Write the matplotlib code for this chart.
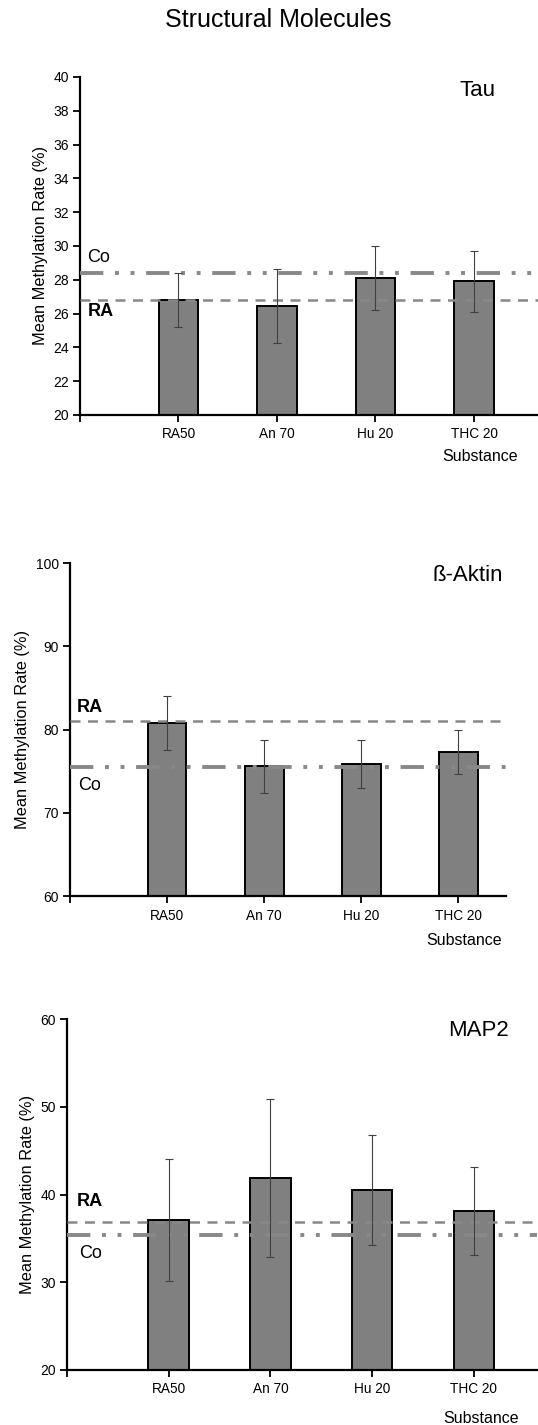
import matplotlib.pyplot as plt

plt.rcParams['font.family'] = ['Liberation Sans', 'DejaVu Sans']

# data
substances = ['RA50', 'An 70', 'Hu 20', 'THC 20']

tau_mean = [26.8, 26.45, 28.1, 27.9]
tau_err = [1.6, 2.2, 1.9, 1.8]
tau_co = 28.4
tau_ra = 26.8

aktin_mean = [80.8, 75.6, 75.9, 77.3]
aktin_err = [3.2, 3.2, 2.9, 2.7]
aktin_co = 75.5
aktin_ra = 81.0

map2_mean = [37.1, 41.9, 40.5, 38.1]
map2_err = [7.0, 9.0, 6.3, 5.0]
map2_co = 35.4
map2_ra = 36.9

fig = plt.figure(figsize=(5.38, 14.25), dpi=100)
fig.text(0.517, 0.986, 'Structural Molecules', ha='center', va='center', fontsize=18)

panels = [
    # name, means, errs, co, ra, rect, ylim, yticks, xmax,
    # name pos, substance pos, line labels (x, y, text)
    ('Tau', tau_mean, tau_err, tau_co, tau_ra,
     [0.1487, 0.7088, 0.8513, 0.2372], (20, 40), range(20, 41, 2), 4.65,
     (0.908, 0.96), (0.956, -0.123),
     [(0.07, 29.3, 'Co'), (0.08, 26.1, 'RA')]),
    ('ß-Aktin', aktin_mean, aktin_err, aktin_co, aktin_ra,
     [0.130, 0.3712, 0.8105, 0.2337], (60, 100), range(60, 101, 10), 4.49,
     (0.993, 0.964), (0.991, -0.135),
     [(0.07, 82.6, 'RA'), (0.08, 73.3, 'Co')]),
    ('MAP2', map2_mean, map2_err, map2_co, map2_ra,
     [0.1245, 0.0386, 0.8735, 0.2461], (20, 60), range(20, 61, 10), 4.62,
     (0.94, 0.969), (0.962, -0.137),
     [(0.10, 39.2, 'RA'), (0.12, 33.3, 'Co')]),
]

for (name, means, errs, co, ra, rect, ylim, yticks, xmax,
     name_pos, sub_pos, line_labels) in panels:
    ax = fig.add_axes(rect)
    x = [1, 2, 3, 4]
    ax.bar(x, [m - ylim[0] for m in means], bottom=ylim[0], width=0.4,
           color='#808080', edgecolor='black', linewidth=1.4, zorder=2)
    ax.errorbar(x, means, yerr=errs, fmt='none', ecolor='#404040',
                elinewidth=0.8, capsize=3, capthick=0.8, zorder=4)
    ax.axhline(ra, color='#888888', linestyle=(0, (4, 3)), linewidth=1.8, zorder=3)
    ax.axhline(co, color='#888888', linestyle=(0, (6, 3, 1, 3, 1, 3)),
               linewidth=2.8, zorder=3)
    ax.set_xlim(0, xmax)
    ax.set_ylim(*ylim)
    ax.set_yticks(list(yticks))
    ax.set_xticks([0] + x)
    ax.set_xticklabels([''] + substances, fontsize=9.8)
    ax.tick_params(axis='y', labelsize=10, length=5, width=1.3, direction='out', pad=3)
    ax.tick_params(axis='x', length=5, width=1.3, direction='out', pad=4)
    for s in ['top', 'right']:
        ax.spines[s].set_visible(False)
    for s in ['left', 'bottom']:
        ax.spines[s].set_linewidth(1.6)
    ax.set_ylabel('Mean Methylation Rate (%)', fontsize=11.8, labelpad=4)
    ax.text(name_pos[0], name_pos[1], name, transform=ax.transAxes,
            ha='right', va='center', fontsize=16)
    for xv, yv, txt in line_labels:
        ax.text(xv, yv, txt, fontsize=13, va='center', ha='left',
                fontweight='bold' if txt == 'RA' else 'normal')
    ax.text(sub_pos[0], sub_pos[1], 'Substance', transform=ax.transAxes,
            ha='right', va='center', fontsize=11.5)

fig.savefig('out.png', dpi=100)
